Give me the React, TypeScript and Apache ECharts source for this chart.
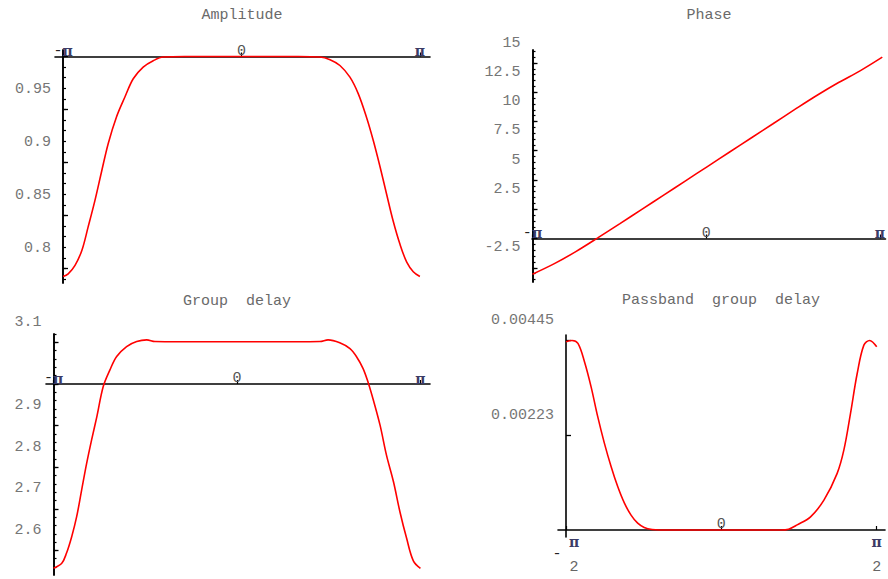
import React, { useEffect, useRef } from "react";
import * as echarts from "echarts";

const PI = Math.PI;

// ---- Amplitude response |H(w)| ----
const ampFreq = [
  -3.1416, -3.05, -2.93, -2.81, -2.7, -2.58, -2.46, -2.345, -2.2, -2.05, -1.905, -1.73, -1.553, -1.377,
  -1.0, -0.5, 0, 0.5, 1.0, 1.38, 1.56, 1.734, 1.91, 2.056, 2.2, 2.32, 2.44, 2.556, 2.67, 2.79, 2.91,
  3.025, 3.1416,
];
const ampValues = [
  0.7925, 0.795, 0.803, 0.817, 0.839, 0.864, 0.892, 0.918, 0.943, 0.962, 0.979, 0.99, 0.996, 0.9995,
  1.0, 1.0, 1.0, 1.0, 1.0, 0.9995, 0.997, 0.9915, 0.9805, 0.965, 0.943, 0.921, 0.896, 0.87, 0.845,
  0.823, 0.806, 0.797, 0.7925,
];
const ampTickLabels = [0.95, 0.9, 0.85, 0.8];
const ampMajorTicks = [1.0, 0.95, 0.9, 0.85, 0.8];

// ---- Unwrapped phase ----
const phaseFreq = [
  -3.1416, -2.7489, -2.3562, -1.9635, -1.5708, -1.1781, -0.7854, -0.3927, 0, 0.3927, 0.7854, 1.1781,
  1.5708, 1.9635, 2.3562, 2.7489, 3.1416,
];
const phaseValues = [
  -3.05, -2.15, -1.1, 0.07, 1.27, 2.49, 3.71, 4.93, 6.15, 7.37, 8.59, 9.81, 11.03, 12.22, 13.33, 14.35,
  15.5,
];
const phaseTickLabels = [15, 12.5, 10, 7.5, 5, 2.5, -2.5];
const phaseMajorTicks = [15, 12.5, 10, 7.5, 5, 2.5, 0, -2.5];

// ---- Group delay ----
const gdFreq = [
  -3.1416, -3.0, -2.92, -2.83, -2.745, -2.66, -2.574, -2.49, -2.4, -2.29, -2.175, -2.06, -1.89, -1.717,
  -1.546, -1.404, -1.0, -0.5, 0, 0.5, 1.0, 1.42, 1.56, 1.76, 1.935, 2.05, 2.16, 2.25, 2.33, 2.45, 2.56,
  2.68, 2.79, 2.905, 3.02, 3.1416,
];
const gdValues = [
  2.557, 2.569, 2.593, 2.633, 2.681, 2.745, 2.809, 2.865, 2.921, 2.994, 3.034, 3.066, 3.09, 3.102,
  3.106, 3.102, 3.1015, 3.1015, 3.1015, 3.1015, 3.1015, 3.102, 3.106, 3.099, 3.085, 3.065, 3.037,
  3.002, 2.964, 2.901, 2.829, 2.765, 2.693, 2.629, 2.575, 2.557,
];
const gdTickLabels = [3.1, 2.9, 2.8, 2.7, 2.6];
const gdMajorTicks = [3.1, 3.0, 2.9, 2.8, 2.7, 2.6];

// ---- Passband group delay deviation ----
const pbFreq = [
  -1.5708, -1.51, -1.45, -1.384, -1.317, -1.25, -1.183, -1.115, -1.048, -0.98, -0.913, -0.846, -0.78,
  -0.7, -0.62, -0.3, 0, 0.3, 0.6, 0.68, 0.767, 0.902, 1.037, 1.171, 1.239, 1.306, 1.374, 1.441, 1.5,
  1.5708,
];
const pbValues = [
  0.00442, 0.00445, 0.00438, 0.00395, 0.00336, 0.00266, 0.00204, 0.00149, 0.00102, 0.00063, 0.00035,
  0.00016, 0.00006, 0.00001, 0, 0, 0, 0, 0, 0.00002, 0.00012, 0.00031, 0.0007, 0.00133, 0.00188,
  0.00274, 0.00368, 0.00434, 0.00445, 0.0043,
];
const pbTickLabels = [0.00445, 0.00223];

const titles = ["Amplitude", "Phase", "Group  delay", "Passband  group  delay"];

// minor tick helper (tick marks only, not data)
function steps(lo: number, hi: number, step: number): number[] {
  const out: number[] = [];
  const n = Math.round((hi - lo) / step);
  for (let k = 0; k <= n; k++) out.push(Math.round((lo + k * step) * 1e6) / 1e6);
  return out;
}

const LABEL_COLOR = "#767676";
const MONO = "'Liberation Mono', 'DejaVu Sans Mono', monospace";
const FONT_SIZE = 15;
const AXIS_LINE = { color: "#000", width: 1.6 };

const piRich = {
  p: { fontFamily: "'DejaVu Serif', serif", fontWeight: "bold" as const, fontSize: 14, color: "#3c3c66", lineHeight: 12.5 },
  m: { fontFamily: MONO, fontSize: FONT_SIZE, color: "#222", lineHeight: 12.5 },
  z: { fontFamily: MONO, fontSize: FONT_SIZE, color: "#555", lineHeight: 12.5 },
  d: { fontFamily: MONO, fontSize: FONT_SIZE, color: "#666", lineHeight: 12.5 },
  s: { fontFamily: MONO, fontSize: 10, lineHeight: 12.5 },
  // fixed-width cells for the -π/2 fraction label
  fa: { fontFamily: MONO, fontSize: FONT_SIZE, color: "#222", lineHeight: 12.5, width: 18, align: "center" as const },
  fp: { fontFamily: "'DejaVu Serif', serif", fontWeight: "bold" as const, fontSize: 14, color: "#3c3c66", lineHeight: 12.5, width: 16, align: "center" as const },
  fd: { fontFamily: MONO, fontSize: FONT_SIZE, color: "#666", lineHeight: 12.5, width: 16, align: "center" as const },
  fc: { fontSize: 10, lineHeight: 12.5, width: 2 },
};

// y tick labels sit a little above their tick marks
const yRich = {
  v: { fontFamily: MONO, fontSize: FONT_SIZE, color: LABEL_COLOR, lineHeight: 16 },
  gap: { fontSize: 8, lineHeight: 12 },
};

function piLabel(v: number): string {
  if (Math.abs(v) < 1e-6) return "{z|0}";
  return v < 0 ? "{m|-}{p|π}" : "{p|π}";
}

// Panel geometry (pixels) and axis setup
const panels = [
  {
    title: titles[0], titleX: 242, titleY: 15,
    xl: 55, xr: 430, x0: 63, wl: -PI, s: 56.8,
    yt: 50, yb: 283, y0: 56.5, origin: 1.0, t: 1060,
    freq: ampFreq, values: ampValues,
    labels: ampTickLabels, major: ampMajorTicks, minor: steps(0.79, 1.0, 0.01),
    xTicks: [-PI, 0, PI], xLabels: [-PI, 0, PI], frac: false,
  },
  {
    title: titles[1], titleX: 709, titleY: 15,
    xl: 532, xr: 892, x0: 532.5, wl: -PI, s: 56.3,
    yt: 50, yb: 282, y0: 238.5, origin: 0, t: 11.7,
    freq: phaseFreq, values: phaseValues,
    labels: phaseTickLabels, major: phaseMajorTicks, minor: steps(-3.5, 16, 0.5),
    xTicks: [-PI, 0, PI], xLabels: [-PI, 0, PI], frac: false,
  },
  {
    title: titles[2], titleX: 237, titleY: 301,
    xl: 46, xr: 430, x0: 53.5, wl: -PI, s: 58.4,
    yt: 334, yb: 575, y0: 384, origin: 3.0, t: 416,
    freq: gdFreq, values: gdValues,
    labels: gdTickLabels, major: gdMajorTicks, minor: steps(2.56, 3.12, 0.02),
    xTicks: [-PI, 0, PI], xLabels: [-PI, 0, PI], frac: false,
  },
  {
    title: titles[3], titleX: 721, titleY: 300,
    xl: 558, xr: 885, x0: 566, wl: -PI / 2, s: 98.9,
    yt: 335, yb: 537, y0: 530, origin: 0, t: 42600,
    freq: pbFreq, values: pbValues,
    labels: pbTickLabels, major: pbTickLabels, minor: [] as number[],
    xTicks: [-PI / 2, 0, PI / 2], xLabels: [0], frac: true,
  },
];

function buildOption() {
  const grid: any[] = [];
  const xAxis: any[] = [];
  const yAxis: any[] = [];
  const series: any[] = [];
  const graphic: any[] = [];

  panels.forEach((p) => {
    const xHi = p.wl + (p.xr - p.x0) / p.s;
    const yLo = p.origin - (p.yb - p.y0) / p.t;
    const yHi = p.origin + (p.y0 - p.yt) / p.t;

    // plotting area: y axis on its left edge
    const gA = grid.length;
    grid.push({ left: p.x0, top: p.yt, width: p.xr - p.x0, height: p.yb - p.yt });
    // thin strip whose top edge carries the horizontal axis through the origin
    const gB = grid.length;
    grid.push({ left: p.xl, top: p.y0, width: p.xr - p.xl, height: 1 });

    const xA = xAxis.length;
    xAxis.push({ gridIndex: gA, type: "value", show: false, min: p.wl, max: xHi });

    // short minor ticks first, long major ticks and labels on top
    if (p.minor.length) {
      yAxis.push({
        gridIndex: gA, type: "value", position: "left", min: yLo, max: yHi,
        axisLine: { show: true, onZero: false, lineStyle: AXIS_LINE },
        axisTick: { show: true, inside: true, length: 3, customValues: p.minor, lineStyle: { color: "#000", width: 1.2 } },
        axisLabel: { show: true, customValues: p.minor, formatter: () => "" },
        splitLine: { show: false },
      });
    }
    const yMaj = yAxis.length;
    yAxis.push({
      gridIndex: gA, type: "value", position: "left", min: yLo, max: yHi,
      axisLine: { show: true, onZero: false, lineStyle: AXIS_LINE },
      axisTick: { show: true, inside: true, length: 5, customValues: p.major, lineStyle: { color: "#000", width: 1.3 } },
      axisLabel: {
        show: true, customValues: p.labels, formatter: (v: number) => `{v|${v}}\n{gap| }`,
        showMinLabel: true, showMaxLabel: true, hideOverlap: false,
        margin: 12, verticalAlign: "bottom", rich: yRich,
      },
      splitLine: { show: false },
    });

    xAxis.push({
      gridIndex: gB, type: "value", position: "top",
      min: p.wl + (p.xl - p.x0) / p.s, max: xHi,
      axisLine: { show: true, onZero: false, lineStyle: AXIS_LINE },
      axisTick: { show: true, length: 4, customValues: p.xTicks, lineStyle: { color: "#000", width: 1.2 } },
      axisLabel: {
        show: true, customValues: p.xLabels, formatter: piLabel, margin: -1, rich: piRich,
        showMinLabel: true, showMaxLabel: true,
      },
      splitLine: { show: false },
    });
    yAxis.push({ gridIndex: gB, type: "value", show: false, min: 0, max: 1 });

    if (p.frac) {
      xAxis.push({
        gridIndex: gB, type: "value", position: "bottom",
        min: p.wl + (p.xl - p.x0) / p.s, max: xHi,
        axisLine: { show: false, onZero: false },
        axisTick: { show: false },
        axisLabel: {
          show: true, customValues: [-PI / 2, PI / 2], margin: 5, rich: piRich,
          showMinLabel: true, showMaxLabel: true,
          formatter: (v: number) =>
            v < 0
              ? "{fa| }{fp|π}{fc| }\n{fa|-}{fp| }{fc| }\n{fa| }{fd|2}{fc| }"
              : "{p|π}\n{s| }\n{d|2}",
        },
        splitLine: { show: false },
      });
    }

    series.push({
      type: "line", xAxisIndex: xA, yAxisIndex: yMaj,
      data: p.freq.map((f, k) => [f, p.values[k]]),
      showSymbol: false, smooth: 0.35, silent: true,
      lineStyle: { color: "#ff0000", width: 1.6 },
    });

    graphic.push({
      type: "text", x: p.titleX, y: p.titleY,
      style: { text: p.title, align: "center", verticalAlign: "middle", font: `${FONT_SIZE}px ${MONO}`, fill: "#6a6a6a" },
    });
  });

  return {
    animation: false,
    backgroundColor: "#fff",
    grid, xAxis, yAxis, series, graphic,
  };
}

export default function App() {
  const ref = useRef<HTMLDivElement>(null);
  useEffect(() => {
    if (!ref.current) return;
    const chart = echarts.init(ref.current, null, { renderer: "svg" });
    chart.setOption(buildOption() as any);
    return () => chart.dispose();
  }, []);
  return (
    <div
      ref={ref}
      style={{ position: "fixed", left: 0, top: 0, width: 888, height: 579, background: "#fff" }}
    />
  );
}
